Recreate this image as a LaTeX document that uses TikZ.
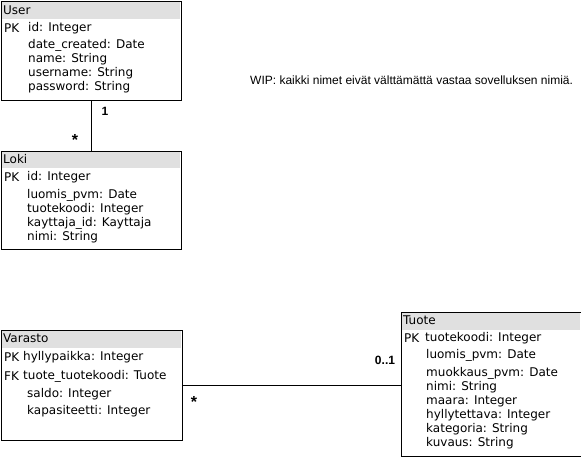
\documentclass[tikz,border=0pt]{standalone}
\usepackage{fontspec}
\usepackage{tikz}
\setmainfont{DejaVu Sans}
\newfontfamily\notefont{Liberation Sans}
\definecolor{hdrgray}{HTML}{E0E0E0}

\begin{document}
\begin{tikzpicture}[x=1pt, y=-1pt, font=\fontsize{12}{14}\selectfont,
    box/.style={draw, line width=1pt, anchor=north west, inner sep=0pt},
    txt/.style={anchor=west, inner sep=0pt, align=left},
    mult/.style={font=\notefont\bfseries\fontsize{12}{14}\selectfont, inner sep=0pt},
    star/.style={font=\notefont\bfseries\fontsize{16}{18}\selectfont, inner sep=0pt}]
    \useasboundingbox (0, 0) rectangle (581, 461);
    % otsikkopalkit
    \fill[hdrgray] (1, 1) rectangle (180, 19);
    \fill[hdrgray] (1, 151) rectangle (180, 168);
    \fill[hdrgray] (1, 330) rectangle (181, 348);
    \fill[hdrgray] (401, 312) rectangle (580, 330);
    % taulut
    \node[box, minimum width=180pt, minimum height=99pt] (user) at (0.5, 0.5) {};
    \node[box, minimum width=180pt, minimum height=98pt] (loki) at (0.5, 150.5) {};
    \node[box, minimum width=181pt, minimum height=110pt] (varasto) at (0.5, 329.5) {};
    \node[box, minimum width=180pt, minimum height=144pt] (tuote) at (400.5, 311.5) {};
    % User
    \node[txt] (user-title) at (3, 10) {User};
    \node[txt] (user-pk) at (4, 28) {PK};
    \node[txt] (user-id) at (28, 28) {id: Integer};
    \node[txt] (user-attr) at (28, 66) {date\_created: Date\\name: String\\username: String\\password: String};
    % Loki
    \node[txt] (loki-title) at (3, 159) {Loki};
    \node[txt] (loki-pk) at (4, 177) {PK};
    \node[txt] (loki-id) at (27, 177) {id: Integer};
    \node[txt] (loki-attr) at (27, 216.5) {luomis\_pvm: Date\\tuotekoodi: Integer\\kayttaja\_id: Kayttaja\\nimi: String};
    % Varasto
    \node[txt] (varasto-title) at (3, 338) {Varasto};
    \node[txt] (varasto-pk) at (4, 357) {PK};
    \node[txt] (varasto-id) at (23, 357) {hyllypaikka: Integer};
    \node[txt] (varasto-fk) at (4, 376) {FK};
    \node[txt] (varasto-ref) at (23, 376) {tuote\_tuotekoodi: Tuote};
    \node[txt] (varasto-saldo) at (27, 394) {saldo: Integer};
    \node[txt] (varasto-kap) at (27, 411) {kapasiteetti: Integer};
    % Tuote
    \node[txt] (tuote-title) at (403, 320) {Tuote};
    \node[txt] (tuote-pk) at (404, 338) {PK};
    \node[txt] (tuote-id) at (425, 338) {tuotekoodi: Integer};
    \node[txt] (tuote-luotu) at (426, 355) {luomis\_pvm: Date};
    \node[txt] (tuote-attr) at (426, 408) {muokkaus\_pvm: Date\\nimi: String\\maara: Integer\\hyllytettava: Integer\\kategoria: String\\kuvaus: String};
    % yhteydet
    \draw[line width=1pt] (user.south) -- (loki.north);
    \node[mult] (user-one) at (105, 111) {1};
    \node[star] (loki-many) at (75, 140) {*};
    \draw[line width=1pt] (varasto.east) -- (varasto.east -| tuote.west);
    \node[star] (varasto-many) at (194, 402) {*};
    \node[mult] (tuote-opt) at (385, 360) {0..1};
    % huomautus
    \node[txt, font=\notefont\fontsize{12}{14}\selectfont] (wip) at (250, 80) {WIP: kaikki nimet eivät välttämättä vastaa sovelluksen nimiä.};
\end{tikzpicture}
\end{document}
